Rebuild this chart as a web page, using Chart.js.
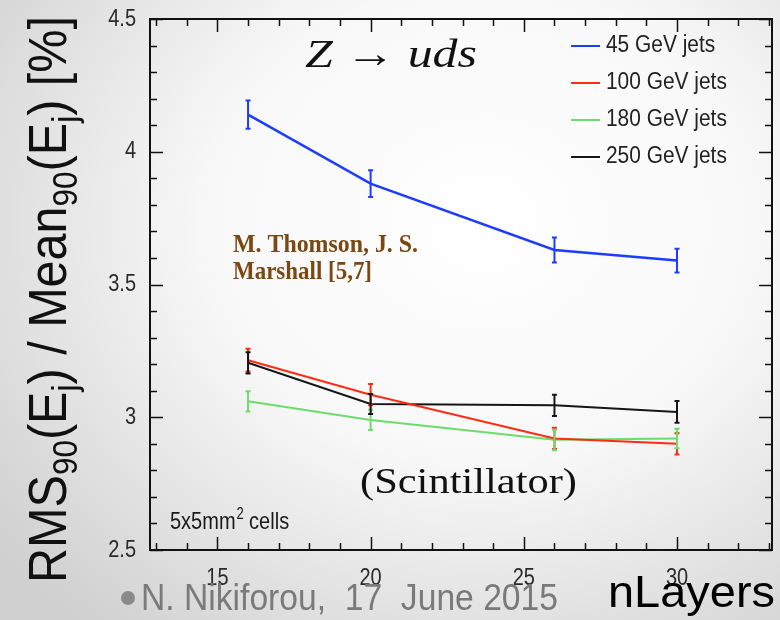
<!DOCTYPE html>
<html>
<head>
<meta charset="utf-8">
<title>Jet energy resolution vs nLayers</title>
<script src="https://cdn.jsdelivr.net/npm/chart.js"></script>
<style>
  html, body { margin: 0; padding: 0; }
  body {
    width: 780px; height: 620px; overflow: hidden;
    background: radial-gradient(ellipse 78% 85% at 62% 36%, #ffffff 0%, #f8f8f8 45%, #d0d0d0 100%);
  }
  canvas { display: block; }
</style>
<script type="text/javascript">

    // nLayers scan, 5x5mm2 scintillator cells
    var nLayers = [16, 20, 26, 30];
    var jetLabels = ['45 GeV jets', '100 GeV jets', '180 GeV jets', '250 GeV jets'];

    var res45  = [4.14, 3.88, 3.63, 3.59];
    var err45  = [0.053, 0.050, 0.047, 0.045];
    var res100 = [3.215, 3.085, 2.92, 2.90];
    var err100 = [0.043, 0.040, 0.040, 0.040];
    var res180 = [3.06, 2.99, 2.915, 2.92];
    var err180 = [0.038, 0.038, 0.038, 0.037];
    var res250 = [3.205, 3.05, 3.045, 3.02];
    var err250 = [0.040, 0.038, 0.040, 0.041];

    var xTicks = [15, 20, 25, 30];
    var yTicks = [2.5, 3, 3.5, 4, 4.5];
    var yTickLabels = ['2.5', '3', '3.5', '4', '4.5'];

    var lineColors = ['#1e3cff', '#ff2b12', '#6cdc6c', '#161616'];
    var allRes = [res45, res100, res180, res250];
    var allErr = [err45, err100, err180, err250];

    var chart;

    // text squeezed or stretched horizontally to a given width
    function fitText(ctx, text, x, y, width, font, color, vScale) {
        ctx.save();
        ctx.font = font;
        ctx.fillStyle = color;
        ctx.textAlign = 'left';
        ctx.textBaseline = 'alphabetic';
        var w = ctx.measureText(text).width;
        ctx.translate(x, y);
        ctx.scale(width / w, vScale || 1);
        ctx.fillText(text, 0, 0);
        ctx.restore();
    }

    function drawErrorBars(c) {
        var ctx = c.ctx, xs = c.scales.x, ys = c.scales.y;
        ctx.save();
        ctx.lineWidth = 2;
        for (var d = 0; d < allRes.length; d++) {
            ctx.strokeStyle = lineColors[d];
            for (var i = 0; i < nLayers.length; i++) {
                var px = xs.getPixelForValue(nLayers[i]);
                var top = ys.getPixelForValue(allRes[d][i] + allErr[d][i]);
                var bot = ys.getPixelForValue(allRes[d][i] - allErr[d][i]);
                ctx.beginPath();
                ctx.moveTo(px, top); ctx.lineTo(px, bot);
                ctx.moveTo(px - 2.5, top); ctx.lineTo(px + 2.5, top);
                ctx.moveTo(px - 2.5, bot); ctx.lineTo(px + 2.5, bot);
                ctx.stroke();
            }
        }
        ctx.restore();
    }

    function drawFrame(c) {
        var ctx = c.ctx, a = c.chartArea, xs = c.scales.x, ys = c.scales.y;
        ctx.save();
        ctx.strokeStyle = '#111';
        ctx.lineWidth = 2;
        ctx.strokeRect(a.left, a.top, a.right - a.left, a.bottom - a.top);

        ctx.lineWidth = 1.5;
        ctx.beginPath();
        // x ticks every 1, long at multiples of 5
        for (var v = Math.ceil(xs.min); v <= xs.max; v++) {
            var px = Math.round(xs.getPixelForValue(v)) + 0.5;
            var len = (v % 5 === 0) ? 13 : 7;
            ctx.moveTo(px, a.bottom); ctx.lineTo(px, a.bottom - len);
            ctx.moveTo(px, a.top); ctx.lineTo(px, a.top + len);
        }
        // y ticks every 0.1, long at multiples of 0.5
        for (var k = 25; k <= 45; k++) {
            var py = Math.round(ys.getPixelForValue(k / 10)) + 0.5;
            var ylen = (k % 5 === 0) ? 13 : 7;
            ctx.moveTo(a.left, py); ctx.lineTo(a.left + ylen, py);
            ctx.moveTo(a.right, py); ctx.lineTo(a.right - ylen, py);
        }
        ctx.stroke();

        // tick labels
        ctx.fillStyle = '#2a2a2a';
        ctx.font = '20px "Liberation Sans", Arial, sans-serif';
        ctx.textBaseline = 'middle';
        ctx.textAlign = 'right';
        for (var j = 0; j < yTicks.length; j++) {
            ctx.save();
            ctx.translate(a.left - 14, ys.getPixelForValue(yTicks[j]));
            ctx.scale(1, 1.2);
            ctx.fillText(yTickLabels[j], 0, 0);
            ctx.restore();
        }
        ctx.textAlign = 'center';
        for (var t = 0; t < xTicks.length; t++) {
            ctx.save();
            ctx.translate(xs.getPixelForValue(xTicks[t]), a.bottom + 28);
            ctx.scale(1, 1.2);
            ctx.fillText(String(xTicks[t]), 0, 0);
            ctx.restore();
        }
        ctx.restore();
    }

    function drawLegend(c) {
        var ctx = c.ctx;
        ctx.save();
        ctx.font = '22px "Liberation Sans", Arial, sans-serif';
        ctx.textBaseline = 'middle';
        ctx.textAlign = 'left';
        for (var i = 0; i < jetLabels.length; i++) {
            var y = 46 + i * 37;
            ctx.strokeStyle = lineColors[i];
            ctx.lineWidth = 2;
            ctx.beginPath();
            ctx.moveTo(571, y); ctx.lineTo(600, y);
            ctx.stroke();
            ctx.fillStyle = '#222';
            ctx.save();
            ctx.translate(606, y);
            ctx.scale(0.95, 1.05);
            ctx.fillText(jetLabels[i], 0, 0);
            ctx.restore();
        }
        ctx.restore();
    }

    function drawYTitle(c) {
        var ctx = c.ctx;
        var big = '54px "Liberation Sans", Arial, sans-serif';
        var small = '35px "Liberation Sans", Arial, sans-serif';
        var parts = [
            ['RMS', big, 0], ['90', small, 11], ['(E', big, 0], ['j', small, 11],
            [') / Mean', big, 0], ['90', small, 11], ['(E', big, 0], ['j', small, 11], [') [%]', big, 0]
        ];
        var total = 0;
        parts.forEach(function (p) { ctx.font = p[1]; total += ctx.measureText(p[0]).width; });
        var sx = 567 / total;
        ctx.save();
        ctx.translate(66, 583);
        ctx.rotate(-Math.PI / 2);
        ctx.scale(sx, 1);
        ctx.fillStyle = '#111';
        ctx.textBaseline = 'alphabetic';
        var pos = 0;
        parts.forEach(function (p) {
            ctx.font = p[1];
            ctx.fillText(p[0], pos, p[2]);
            pos += ctx.measureText(p[0]).width;
        });
        ctx.restore();
    }

    function drawNotes(c) {
        var ctx = c.ctx;
        // process label
        fitText(ctx, 'Z \u2192 uds', 305, 67, 172, 'italic 40px "Liberation Serif", "DejaVu Serif", serif', '#111');

        fitText(ctx, 'M. Thomson, J. S.', 233, 252, 185, 'bold 25px "Liberation Serif", serif', '#7a4812');
        fitText(ctx, 'Marshall [5,7]', 233, 279, 139, 'bold 25px "Liberation Serif", serif', '#7a4812');
        fitText(ctx, '(Scintillator)', 360, 493, 217, '36px "Liberation Serif", serif', '#111');

        ctx.save();
        ctx.fillStyle = '#1a1a1a';
        ctx.translate(170, 529);
        ctx.scale(1, 1.2);
        ctx.font = '20px "Liberation Sans", Arial, sans-serif';
        ctx.textBaseline = 'alphabetic';
        ctx.fillText('5x5mm', 0, 0);
        var w = ctx.measureText('5x5mm').width;
        ctx.font = '13px "Liberation Sans", Arial, sans-serif';
        ctx.fillText('2', w + 1, -8);
        ctx.font = '20px "Liberation Sans", Arial, sans-serif';
        ctx.fillText(' cells', w + 8, 0);
        ctx.restore();

        // slide footer
        ctx.save();
        ctx.fillStyle = '#8a8a8a';
        ctx.beginPath();
        ctx.arc(128, 598, 7, 0, Math.PI * 2);
        ctx.fill();
        ctx.restore();
        fitText(ctx, 'N. Nikiforou,  17  June 2015', 141, 610, 417, '37px "Liberation Sans", Arial, sans-serif', '#7a7a7a');
        fitText(ctx, 'nLayers', 608, 607, 167, '44px "Liberation Sans", Arial, sans-serif', '#000');
    }

    var rootStyle = {
        id: 'rootStyle',
        afterDatasetsDraw: function (c) {
            drawErrorBars(c);
            drawFrame(c);
            drawLegend(c);
            drawYTitle(c);
            drawNotes(c);
        }
    };

    window.onload = function () {
        var datasets = allRes.map(function (vals, d) {
            return {
                label: jetLabels[d],
                data: nLayers.map(function (n, i) { return { x: n, y: vals[i] }; }),
                borderColor: lineColors[d],
                backgroundColor: lineColors[d],
                borderWidth: d === 0 ? 2.5 : 2,
                pointRadius: 0,
                tension: 0,
                fill: false
            };
        });

        var ctx = document.getElementById('resChart').getContext('2d');
        chart = new Chart(ctx, {
            type: 'line',
            data: { datasets: datasets },
            options: {
                responsive: false,
                animation: false,
                layout: { padding: { left: 150, top: 19, right: 8, bottom: 70 } },
                plugins: { legend: { display: false }, tooltip: { enabled: false } },
                scales: {
                    x: { type: 'linear', min: 12.8, max: 33.1, display: false },
                    y: { type: 'linear', min: 2.5, max: 4.5, display: false }
                }
            },
            plugins: [rootStyle]
        });
    };

</script>
</head>
<body>
<canvas id="resChart" width="780" height="620"></canvas>
</body>
</html>
